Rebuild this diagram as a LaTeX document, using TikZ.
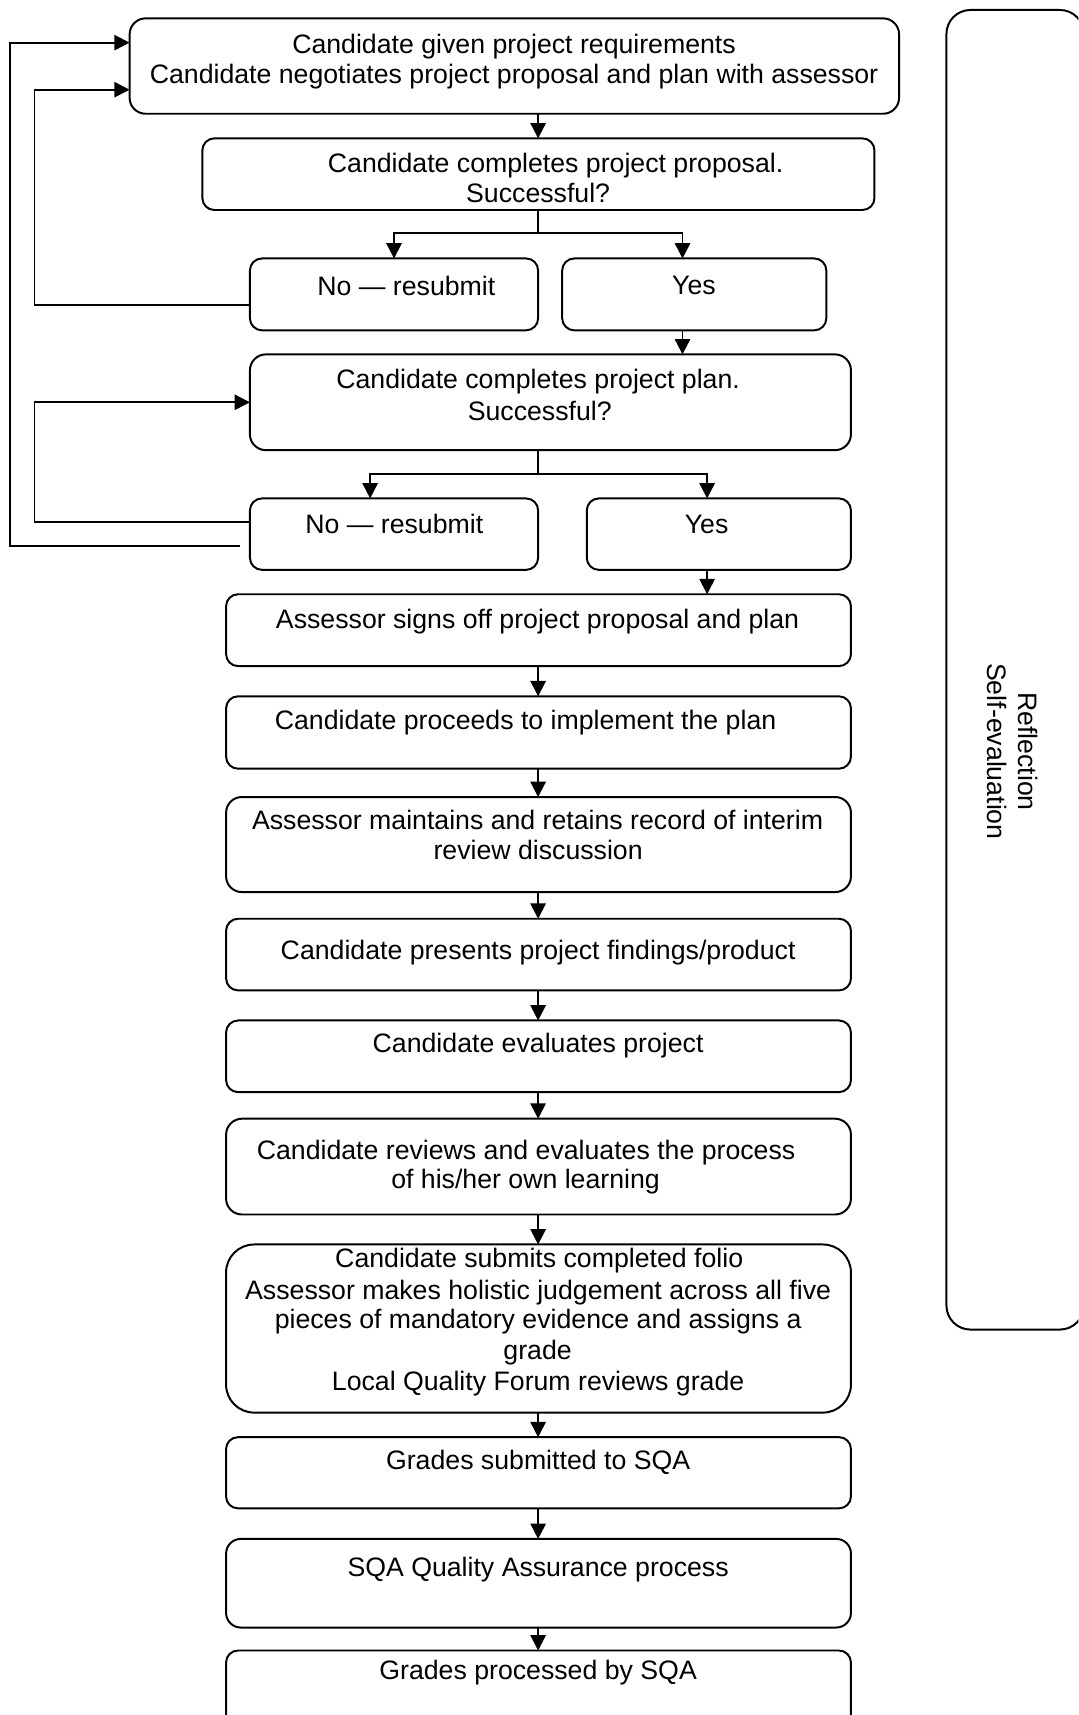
\documentclass[tikz,border=0pt]{standalone}
\usepackage{fontspec}
\setmainfont{Liberation Sans}
\usetikzlibrary{arrows.meta,fit}
\tikzset{
  box/.style={draw, line width=0.9pt, rounded corners=#1, inner sep=0pt, outer sep=0pt},
  box/.default=5.5pt,
  tx/.style={anchor=base, inner sep=0pt, outer sep=0pt, font=\fontsize{12.2pt}{13.9pt}\selectfont},
  conn/.style={line width=0.85pt},
  arr/.style={conn, -{Triangle[length=7pt,width=7pt]}},
}
\begin{document}
\begin{tikzpicture}[x=0.5pt,y=-0.5pt]
\useasboundingbox (0,0) rectangle (986,1568);
\clip (0,0) rectangle (986,1568);
\coordinate (ax) at (492,0);
\coordinate (ya) at (624,0);
\coordinate (na) at (338.4,0);
\coordinate (yb) at (646.5,0);

% boxes
\node[box=7.3pt, fit={(118.5,16.8) (822,104)}] (top) {};
\node[box=5.5pt, fit={(185,126.5) (799.5,192)}] (prop) {};
\node[box=5.5pt, fit={(228.5,236.3) (492,302)}] (no1) {};
\node[box=5.5pt, fit={(514,236.3) (755.5,302)}] (yes1) {};
\node[box=7.3pt, fit={(228.5,324) (778,411.6)}] (plan) {};
\node[box=5.5pt, fit={(228.5,455.7) (492,521)}] (no2) {};
\node[box=5.5pt, fit={(536.5,455.7) (778,521)}] (yes2) {};
\node[box=5.5pt, fit={(206.7,543.3) (778,609)}] (b4) {};
\node[box=5.5pt, fit={(206.7,636.6) (778,702.8)}] (b5) {};
\node[box=7.2pt, fit={(206.7,728.7) (778,815.6)}] (b6) {};
\node[box=5.5pt, fit={(206.7,840) (778,905.5)}] (b7) {};
\node[box=5.5pt, fit={(206.7,933) (778,998.5)}] (b8) {};
\node[box=7.3pt, fit={(206.7,1022.8) (778,1110.4)}] (b9) {};
\node[box=12.8pt, fit={(206.7,1137.8) (778,1291.5)}] (b10) {};
\node[box=5.4pt, fit={(206.7,1314) (778,1379)}] (b11) {};
\node[box=6.7pt, fit={(206.7,1407) (778,1488)}] (b12) {};
\node[box=5.5pt, fit={(206.7,1509) (778,1600)}] (b13) {};
\node[box=11pt, fit={(865.3,9.1) (991,1215.6)}] (refl) {};

% texts
\node[tx] (ttop1) at (470,49.2) {Candidate given project requirements};
\node[tx] (ttop2) at (470,76.6) {Candidate negotiates project proposal and plan with assessor};
\node[tx] (tprop1) at (508,157.5) {Candidate completes project proposal.};
\node[tx] (tprop2) at (492,185.5) {Successful?};
\node[tx] (tno1) at (371.5,270) {No --- resubmit};
\node[tx] (tyes1) at (634.5,269.4) {Yes};
\node[tx] (tplan1) at (492,355.6) {Candidate completes project plan.};
\node[tx] (tplan2) at (493.5,384.5) {Successful?};
\node[tx] (tno2) at (360.5,488.2) {No --- resubmit};
\node[tx] (tyes2) at (646,487.4) {Yes};
\node[tx] (tb4) at (491.5,575) {Assessor signs off project proposal and plan};
\node[tx] (tb5) at (480.5,666.6) {Candidate proceeds to implement the plan};
\node[tx] (tb6a) at (491.5,758) {Assessor maintains and retains record of interim};
\node[tx] (tb6b) at (492,785.5) {review discussion};
\node[tx] (tb7) at (492,877) {Candidate presents project findings/product};
\node[tx] (tb8) at (492,962) {Candidate evaluates project};
\node[tx] (tb9a) at (481,1060) {Candidate reviews and evaluates the process};
\node[tx] (tb9b) at (480.5,1087) {of his/her own learning};
\node[tx] (tb10a) at (493,1158.7) {Candidate submits completed folio};
\node[tx] (tb10b) at (492,1188) {Assessor makes holistic judgement across all five};
\node[tx] (tb10c) at (492,1214.6) {pieces of mandatory evidence and assigns a};
\node[tx] (tb10d) at (491.5,1242.8) {grade};
\node[tx] (tb10e) at (492,1271.7) {Local Quality Forum reviews grade};
\node[tx] (tb11) at (492,1343.4) {Grades submitted to SQA};
\node[tx] (tb12) at (492,1441) {SQA Quality Assurance process};
\node[tx] (tb13) at (492,1535.5) {Grades processed by SQA};
\node[tx, rotate=-90] (tr1) at (931.3,687) {Reflection};
\node[tx, rotate=-90] (tr2) at (903,687) {Self-evaluation};

% connectors
\draw[arr] (top.south -| ax) -- (prop.north -| ax);
\coordinate (j1) at (492,213);
\draw[conn] (prop.south -| ax) -- (j1);
\draw[arr] (j1) -| (no1.north);
\draw[arr] (j1) -| (yes1.north -| ya);
\draw[arr] (yes1.south -| ya) -- (plan.north -| ya);
\coordinate (j2) at (492,433.6);
\draw[conn] (plan.south -| ax) -- (j2);
\draw[arr] (j2) -| (no2.north -| na);
\draw[arr] (j2) -| (yes2.north -| yb);
\draw[arr] (yes2.south -| yb) -- (b4.north -| yb);
\foreach \a/\b in {b4/b5,b5/b6,b6/b7,b7/b8,b8/b9,b9/b10,b10/b11,b11/b12,b12/b13}
  \draw[arr] (\a.south -| ax) -- (\b.north -| ax);

% loops back
\draw[arr] ([yshift=-5pt]no1.west) -- ++(-197,0) |- ([yshift=-10.8pt]top.west);
\draw[arr] ([yshift=5.6pt]no2.west) -- ++(-197,0) |- (plan.west);
\draw[arr] ([xshift=-4.5pt,yshift=-5.6pt]no2.west) -- ++(-210.7,0) |- ([yshift=10.7pt]top.west);
\end{tikzpicture}
\end{document}
